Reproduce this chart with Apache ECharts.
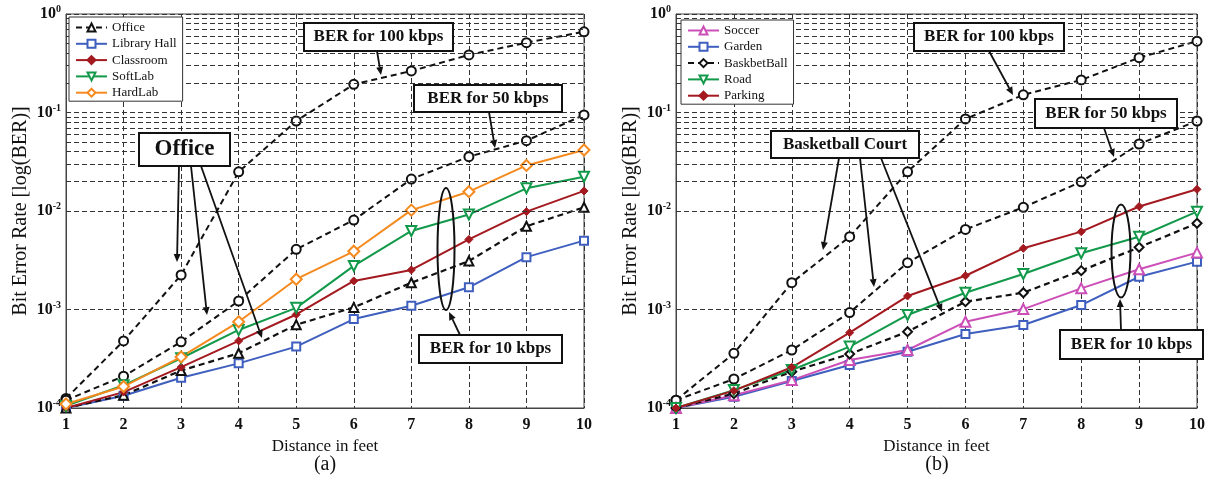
<!DOCTYPE html>
<html><head><meta charset="utf-8">
<script src="https://cdn.jsdelivr.net/npm/echarts@6/dist/echarts.min.js"></script>
<style>html,body{margin:0;padding:0;background:#fff}#c{width:1208px;height:480px}</style>
</head><body><div id="c"></div>
<script>
// ---------- data ----------
const distance = [1, 2, 3, 4, 5, 6, 7, 8, 9, 10];
const yExponents = [-4, -3, -2, -1, 0];
const minorMantissas = [2, 3, 4, 5, 6, 7, 8, 9];

// panel (a)
const office      = [1.0e-4, 1.35e-4, 2.4e-4, 3.6e-4, 7.0e-4, 1.05e-3, 1.87e-3, 3.1e-3, 7.0e-3, 1.09e-2];
const libraryHall = [1.0e-4, 1.33e-4, 2.03e-4, 2.84e-4, 4.2e-4, 8.0e-4, 1.09e-3, 1.68e-3, 3.4e-3, 5.0e-3];
const classroom   = [1.0e-4, 1.45e-4, 2.6e-4, 4.8e-4, 8.9e-4, 1.95e-3, 2.52e-3, 5.15e-3, 9.85e-3, 1.6e-2];
const softLab     = [1.05e-4, 1.7e-4, 3.2e-4, 6.2e-4, 1.04e-3, 2.77e-3, 6.27e-3, 9.2e-3, 1.7e-2, 2.23e-2];
const hardLab     = [1.1e-4, 1.65e-4, 3.3e-4, 7.5e-4, 2.03e-3, 3.9e-3, 1.02e-2, 1.57e-2, 2.9e-2, 4.16e-2];
const office50k   = [1.2e-4, 2.1e-4, 4.7e-4, 1.22e-3, 4.08e-3, 8.1e-3, 2.11e-2, 3.56e-2, 5.18e-2, 9.44e-2];
const office100k  = [1.25e-4, 4.8e-4, 2.24e-3, 2.5e-2, 8.2e-2, 0.193, 0.264, 0.384, 0.512, 0.66];

// panel (b)
const soccer      = [1.0e-4, 1.35e-4, 1.92e-4, 3.07e-4, 3.88e-4, 7.5e-4, 1.01e-3, 1.64e-3, 2.56e-3, 3.78e-3];
const garden      = [1.0e-4, 1.3e-4, 1.88e-4, 2.73e-4, 3.73e-4, 5.64e-4, 6.97e-4, 1.11e-3, 2.15e-3, 3.06e-3];
const basketball  = [1.0e-4, 1.4e-4, 2.34e-4, 3.53e-4, 5.95e-4, 1.2e-3, 1.48e-3, 2.48e-3, 4.28e-3, 7.5e-3];
const road        = [1.0e-4, 1.52e-4, 2.43e-4, 4.2e-4, 8.8e-4, 1.48e-3, 2.29e-3, 3.72e-3, 5.48e-3, 9.85e-3];
const parking     = [1.0e-4, 1.5e-4, 2.59e-4, 5.82e-4, 1.37e-3, 2.2e-3, 4.18e-3, 6.17e-3, 1.11e-2, 1.66e-2];
const basket50k   = [1.2e-4, 1.97e-4, 3.88e-4, 9.3e-4, 2.99e-3, 6.5e-3, 1.09e-2, 1.98e-2, 4.79e-2, 8.2e-2];
const basket100k  = [1.2e-4, 3.59e-4, 1.87e-3, 5.48e-3, 2.5e-2, 8.6e-2, 0.151, 0.214, 0.36, 0.53];

// ---------- styling ----------
const SERIF = '"Liberation Serif", "Times New Roman", serif';
const C = {
  black: '#111111', blue: '#3f5fbf', red: '#a3191f', green: '#12994a',
  orange: '#f58a1f', magenta: '#cc4fb8'
};

const chart = echarts.init(document.getElementById('c'), null, {renderer: 'canvas'});

function pairs(arr) { return distance.map((d, i) => [d, arr[i]]); }

function mk(name, arr, gi, color, symbol, opt) {
  opt = opt || {};
  return {
    name: name, type: 'line', xAxisIndex: gi, yAxisIndex: gi,
    data: pairs(arr),
    symbol: symbol, symbolSize: opt.size || 8, symbolRotate: opt.rotate || 0,
    showSymbol: true,
    lineStyle: {color: color, width: opt.width || 2, type: opt.dash ? [6, 4] : 'solid'},
    itemStyle: {color: opt.fill || color, borderColor: color, borderWidth: opt.bw || 2},
    emphasis: {disabled: true},
    z: opt.z || 3, animation: false
  };
}

const minorVals = [];
yExponents.slice(0, 4).forEach(e => minorMantissas.forEach(m => minorVals.push(m * Math.pow(10, e))));

function gridHelper(gi) {
  return {
    name: 'grid' + gi, type: 'line', xAxisIndex: gi, yAxisIndex: gi, data: [],
    silent: true, z: 1, animation: false,
    markLine: {
      silent: true, symbol: ['none', 'none'], animation: false,
      label: {show: false},
      lineStyle: {color: '#333', width: 1, type: [5, 3]},
      emphasis: {disabled: true},
      data: minorVals.map(v => ({yAxis: v}))
    }
  };
}

function xAxisCfg(gi) {
  return {
    type: 'value', gridIndex: gi, min: 1, max: 10, interval: 1,
    name: 'Distance in feet', nameLocation: 'middle', nameGap: 27,
    nameTextStyle: {fontFamily: SERIF, fontSize: 17, color: '#111'},
    axisLine: {show: true, lineStyle: {color: '#444', width: 1}},
    axisTick: {show: false},
    axisLabel: {fontFamily: SERIF, fontSize: 16, fontWeight: 'bold', color: '#111', margin: 9},
    splitLine: {show: true, lineStyle: {color: '#333', width: 1, type: [5, 3]}}
  };
}
function yAxisCfg(gi) {
  return {
    type: 'log', logBase: 10, gridIndex: gi, min: 1e-4, max: 1,
    name: 'Bit Error Rate [log(BER)]', nameLocation: 'middle', nameGap: 35, nameRotate: 90,
    nameTextStyle: {fontFamily: SERIF, fontSize: 20, color: '#111'},
    axisLine: {show: true, lineStyle: {color: '#444', width: 1}},
    axisTick: {show: false},
    axisLabel: {
      margin: 5,
      formatter: v => '{b|10}{s|' + Math.round(Math.log10(v)) + '}',
      rich: {
        b: {fontFamily: SERIF, fontSize: 16, fontWeight: 'bold', color: '#111'},
        s: {fontFamily: SERIF, fontSize: 10, fontWeight: 'bold', color: '#111', verticalAlign: 'bottom', padding: [0, 0, 9, 0]}
      }
    },
    splitLine: {show: true, lineStyle: {color: '#333', width: 1, type: [5, 3]}}
  };
}

// ---------- annotations ----------
function box(x, y, w, h, text, fs) {
  return [
    {type: 'rect', shape: {x: x, y: y, width: w, height: h}, style: {fill: '#fff', stroke: '#111', lineWidth: 2}, z: 50},
    {type: 'text', x: x + w / 2, y: y + h / 2, style: {text: text, fontFamily: SERIF, fontWeight: 'bold', fontSize: fs, fill: '#111', align: 'center', verticalAlign: 'middle'}, z: 51}
  ];
}
function arrow(x1, y1, x2, y2) {
  const a = Math.atan2(y2 - y1, x2 - x1), L = 8, W = 3.5;
  const bx = x2 - L * Math.cos(a), by = y2 - L * Math.sin(a);
  const px = -Math.sin(a) * W, py = Math.cos(a) * W;
  return [
    {type: 'line', shape: {x1: x1, y1: y1, x2: bx, y2: by}, style: {stroke: '#111', lineWidth: 1.8}, z: 49},
    {type: 'polygon', shape: {points: [[x2, y2], [bx + px, by + py], [bx - px, by - py]]}, style: {fill: '#111'}, z: 49}
  ];
}
function ell(cx, cy, rx, ry) {
  return {type: 'ellipse', shape: {cx: cx, cy: cy, rx: rx, ry: ry}, style: {fill: 'none', stroke: '#111', lineWidth: 2}, z: 49};
}

const graphics = [].concat(
  box(304, 23, 149, 28, 'BER for 100 kbps', 17), arrow(377, 51, 381, 75),
  box(414, 85, 148, 27, 'BER for 50 kbps', 17), arrow(489, 112, 495, 148),
  box(139, 133, 91, 33, 'Office', 23),
  arrow(179, 166, 177, 262), arrow(191, 166, 207, 315), arrow(201, 166, 262, 338),
  [ell(446, 249, 8.5, 61)],
  box(419, 335, 143, 28, 'BER for 10 kbps', 17), arrow(460, 335, 449, 312),

  box(914, 23, 150, 28, 'BER for 100 kbps', 17), arrow(989, 51, 1013, 95),
  box(1035, 99, 142, 29, 'BER for 50 kbps', 17), arrow(1104, 128, 1114, 157),
  box(771, 131, 148, 27, 'Basketball Court', 17),
  arrow(839, 158, 823, 250), arrow(860, 158, 874, 287), arrow(881, 158, 942, 312),
  [ell(1121, 251, 9.5, 46.5)],
  box(1060, 330, 143, 29, 'BER for 10 kbps', 17), arrow(1121, 330, 1120, 299),
  [
    {type: 'text', x: 325, y: 465, style: {text: '(a)', fontFamily: SERIF, fontSize: 20, fill: '#111', align: 'center', verticalAlign: 'middle'}},
    {type: 'text', x: 937, y: 465, style: {text: '(b)', fontFamily: SERIF, fontSize: 20, fill: '#111', align: 'center', verticalAlign: 'middle'}}
  ]
);

const legendBase = {
  orient: 'vertical', backgroundColor: '#fff', borderColor: '#333', borderWidth: 1,
  padding: [4, 6, 2, 6], itemWidth: 31, itemHeight: 10, itemGap: 3.3,
  textStyle: {fontFamily: SERIF, fontSize: 13, color: '#111', lineHeight: 13},
  selectedMode: false, z: 20
};

const option = {
  backgroundColor: '#fff',
  animation: false,
  grid: [
    {left: 66, right: 1208 - 584, top: 14, bottom: 72, show: true, borderColor: '#444', borderWidth: 1, backgroundColor: 'transparent'},
    {left: 676, right: 10, top: 14, bottom: 72, show: true, borderColor: '#444', borderWidth: 1, backgroundColor: 'transparent'}
  ],
  xAxis: [xAxisCfg(0), xAxisCfg(1)],
  yAxis: [yAxisCfg(0), yAxisCfg(1)],
  legend: [
    Object.assign({}, legendBase, {left: 69, top: 17, data: ['Office', 'Library Hall', 'Classroom', 'SoftLab', 'HardLab']}),
    Object.assign({}, legendBase, {left: 681, top: 20, data: ['Soccer', 'Garden', 'BaskbetBall', 'Road', 'Parking']})
  ],
  series: [
    gridHelper(0), gridHelper(1),
    mk('Office 100 kbps', office100k, 0, C.black, 'emptyCircle', {dash: true, size: 9}),
    mk('Office 50 kbps', office50k, 0, C.black, 'emptyCircle', {dash: true, size: 9}),
    mk('Library Hall', libraryHall, 0, C.blue, 'emptyRect', {size: 8}),
    mk('Office', office, 0, C.black, 'emptyTriangle', {dash: true, size: 9, width: 2.2}),
    mk('Classroom', classroom, 0, C.red, 'diamond', {size: 8, bw: 1}),
    mk('SoftLab', softLab, 0, C.green, 'emptyTriangle', {size: 10, rotate: 180}),
    mk('HardLab', hardLab, 0, C.orange, 'emptyDiamond', {size: 11}),

    mk('Basketball 100 kbps', basket100k, 1, C.black, 'emptyCircle', {dash: true, size: 9}),
    mk('Basketball 50 kbps', basket50k, 1, C.black, 'emptyCircle', {dash: true, size: 9}),
    mk('Garden', garden, 1, C.blue, 'emptyRect', {size: 8}),
    mk('Soccer', soccer, 1, C.magenta, 'emptyTriangle', {size: 10}),
    mk('BaskbetBall', basketball, 1, C.black, 'emptyDiamond', {dash: true, size: 9, width: 2.2}),
    mk('Road', road, 1, C.green, 'emptyTriangle', {size: 10, rotate: 180}),
    mk('Parking', parking, 1, C.red, 'diamond', {size: 8, bw: 1})
  ],
  graphic: graphics
};
chart.setOption(option);
</script>
</body></html>
